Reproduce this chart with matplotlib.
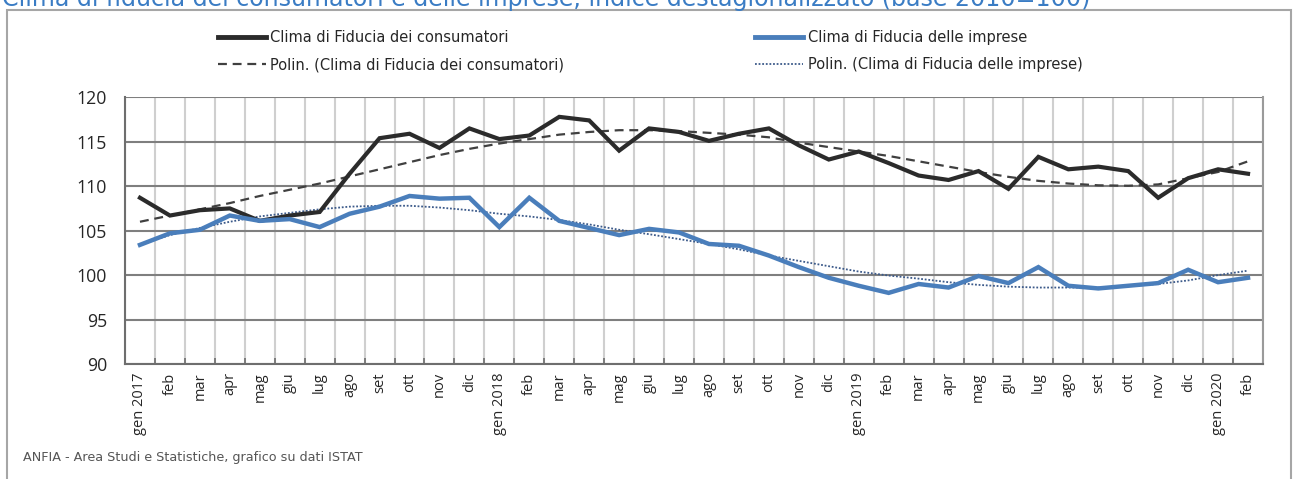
import matplotlib
matplotlib.use("Agg")
import matplotlib.pyplot as plt
from matplotlib.lines import Line2D
from matplotlib.patches import Rectangle

months = ['gen 2017', 'feb', 'mar', 'apr', 'mag', 'giu', 'lug', 'ago', 'set', 'ott', 'nov', 'dic',
          'gen 2018', 'feb', 'mar', 'apr', 'mag', 'giu', 'lug', 'ago', 'set', 'ott', 'nov', 'dic',
          'gen 2019', 'feb', 'mar', 'apr', 'mag', 'giu', 'lug', 'ago', 'set', 'ott', 'nov', 'dic',
          'gen 2020', 'feb']

consumatori = [108.7, 106.7, 107.3, 107.5, 106.1, 106.7, 107.1, 111.4, 115.4, 115.9, 114.3, 116.5,
               115.3, 115.7, 117.8, 117.4, 114.0, 116.5, 116.1, 115.1, 115.9, 116.5, 114.6, 113.0,
               113.9, 112.6, 111.2, 110.7, 111.7, 109.7, 113.3, 111.9, 112.2, 111.7, 108.7, 110.9,
               111.9, 111.4]

imprese = [103.4, 104.7, 105.1, 106.7, 106.1, 106.3, 105.4, 106.9, 107.7, 108.9, 108.6, 108.7,
           105.4, 108.7, 106.1, 105.3, 104.5, 105.2, 104.8, 103.5, 103.3, 102.2, 100.9, 99.7,
           98.8, 98.0, 99.0, 98.6, 99.9, 99.1, 100.9, 98.8, 98.5, 98.8, 99.1, 100.6,
           99.2, 99.7]

trend_consumatori = [106.0, 106.7, 107.4, 108.1, 108.9, 109.6, 110.3, 111.1, 111.9, 112.7, 113.5, 114.2,
                     114.8, 115.3, 115.8, 116.1, 116.3, 116.3, 116.2, 116.0, 115.8, 115.5, 114.9, 114.4,
                     113.9, 113.4, 112.8, 112.2, 111.6, 111.05, 110.6, 110.3, 110.1, 110.05, 110.2, 110.9,
                     111.6, 112.8]

trend_imprese = [103.4, 104.5, 105.3, 106.0, 106.6, 107.0, 107.4, 107.7, 107.8, 107.8, 107.6, 107.3,
                 106.9, 106.6, 106.2, 105.7, 105.1, 104.6, 104.05, 103.5, 102.9, 102.2, 101.6, 101.0,
                 100.4, 99.95, 99.6, 99.2, 98.9, 98.7, 98.6, 98.6, 98.6, 98.75, 99.0, 99.4,
                 100.0, 100.5]

label_cons = 'Clima di Fiducia dei consumatori'
label_imp = 'Clima di Fiducia delle imprese'
label_tcons = 'Polin. (Clima di Fiducia dei consumatori)'
label_timp = 'Polin. (Clima di Fiducia delle imprese)'
title = 'Clima di fiducia dei consumatori e delle imprese, indice destagionalizzato (base 2010=100)'
source = 'ANFIA - Area Studi e Statistiche, grafico su dati ISTAT'

W, H = 1298, 479
fig = plt.figure(figsize=(W / 100, H / 100), dpi=100)
fig.patch.set_facecolor('white')

left, right, top, bottom = 125, 1263, 97.3, 364
ax = fig.add_axes([left / W, 1 - bottom / H, (right - left) / W, (bottom - top) / H])

c_black = '#2b2b2b'
c_blue = '#4a7ebb'
c_dash = '#404040'
c_dot = '#3c5a8a'
dash_style = (0, (4, 2.6))

x = list(range(len(months)))
ax.plot(x, trend_consumatori, color=c_dash, lw=1.6, ls=dash_style, zorder=4)
ax.plot(x, trend_imprese, color=c_dot, lw=1.3, ls=(0, (1, 1)), zorder=4)
ax.plot(x, consumatori, color=c_black, lw=3.0, zorder=5, solid_joinstyle='miter')
ax.plot(x, imprese, color=c_blue, lw=3.2, zorder=5, solid_joinstyle='miter')

ax.set_xlim(-0.5, len(months) - 0.5)
ax.set_ylim(90, 120)
ax.set_yticks(range(90, 121, 5))
ax.set_xticks(x)
ax.set_xticklabels(months, rotation=90, ha='center', va='top', fontsize=10.5,
                   family='Open Sans', color='#262626')
ax.set_xticks([i - 0.5 for i in range(len(months) + 1)], minor=True)
ax.tick_params(axis='x', which='major', length=0, pad=6)
ax.tick_params(axis='x', which='minor', length=4, direction='in', color='#6e6e6e', width=1.2)
ax.tick_params(axis='y', length=0, pad=13, labelsize=12.8, labelcolor='#262626')
for lab in ax.get_yticklabels():
    lab.set_family('Open Sans')

ax.grid(axis='x', which='minor', color='#cfcfcf', lw=1.5, zorder=0)
ax.grid(axis='y', which='major', color='#7f7f7f', lw=1.5, zorder=1)
ax.set_axisbelow(True)
ax.spines['top'].set_visible(False)
ax.spines['left'].set_color('#6e6e6e')
ax.spines['left'].set_linewidth(1.5)
ax.spines['bottom'].set_color('#6e6e6e')
ax.spines['bottom'].set_linewidth(1.5)
ax.spines['right'].set_color('#9a9a9a')
ax.spines['right'].set_linewidth(1.5)

# legends
h1 = [Line2D([], [], color=c_black, lw=3.5), Line2D([], [], color=c_dash, lw=1.6, ls=dash_style)]
h2 = [Line2D([], [], color=c_blue, lw=3.5), Line2D([], [], color=c_dot, lw=1.3, ls=(0, (1, 1)))]
leg_kw = dict(loc='upper left', frameon=False, fontsize=10.5, handlelength=3.3,
              handletextpad=0.3, labelspacing=0.85, borderpad=0, borderaxespad=0)
leg1 = fig.legend(h1, [label_cons, label_tcons], bbox_to_anchor=(218 / W, 1 - 30 / H), **leg_kw)
leg2 = fig.legend(h2, [label_imp, label_timp], bbox_to_anchor=(755 / W, 1 - 30 / H), **leg_kw)
for lg in (leg1, leg2):
    for t in lg.get_texts():
        t.set_color('#262626')

# title (clipped at top as in the source image) and source
fig.text(2 / W, 1 - 6 / H, title, fontsize=17.1, color='#3a7cc4', ha='left', va='baseline')
fig.text(23 / W, 1 - 458 / H, source, fontsize=9.2, color='#555555', ha='left', va='center')

# outer frame
fig.add_artist(Rectangle((7 / W, -0.01), (1291 - 7) / W, 1 - 10 / H + 0.01,
                         transform=fig.transFigure, fill=False, edgecolor='#a6a6a6', lw=1.5))

fig.savefig('out.png', dpi=100)
